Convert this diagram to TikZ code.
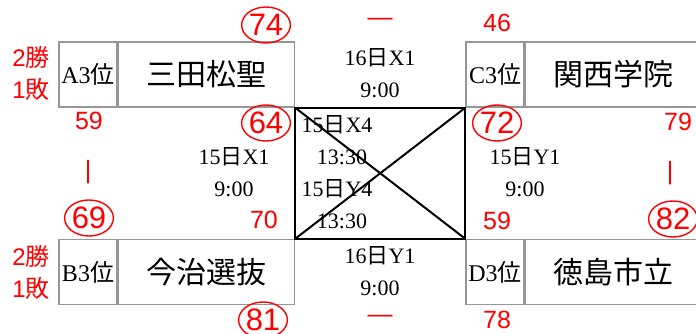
\documentclass[tikz,border=0pt]{standalone}
\usepackage{fontspec}
\setmainfont{Liberation Serif}
\newfontfamily\jp{Noto Sans CJK JP}
\newfontfamily\redsans{Liberation Sans}
\newcommand{\ji}[1]{{\jp #1}}
\usepackage{tikz}
\usetikzlibrary{positioning,shapes.geometric}
\definecolor{boxgray}{RGB}{150,150,150}
\tikzset{
    rank/.style={
           rectangle,
           draw=boxgray, line width=1.5pt,
           minimum width=58pt, minimum height=65pt,
           inner sep=0pt,
           font=\fontsize{24}{28}\selectfont},
    team/.style={
           rectangle,
           draw=boxgray, line width=1.5pt,
           minimum width=176pt, minimum height=65pt,
           inner sep=0pt,
           font=\jp\fontsize{30}{34}\selectfont},
    score/.style={
           text=red, inner sep=0pt,
           font=\redsans\fontsize{25}{28}\selectfont},
    win/.style={
           score, ellipse, draw=red, line width=1.4pt,
           minimum width=42pt, minimum height=36pt,
           font=\redsans\fontsize{31}{34}\selectfont},
    record/.style={
           text=red, inner sep=0pt, align=center,
           font=\redsans\fontsize{24}{32}\selectfont},
    slot/.style={
           inner sep=0pt, align=center,
           font=\fontsize{22}{32}\selectfont},
    match/.style={draw=black, line width=2pt},
}

\begin{document}
\begin{tikzpicture}[x=1pt,y=-1pt]

 \clip (0,0) rectangle (696,333);

 % groups
 \node[rank] (RANKA) at (88,74.5) {A3\ji{位}};
 \node[team, right=0pt of RANKA] (TEAMA) {三田松聖};
 \node[rank] (RANKB) at (88,272) {B3\ji{位}};
 \node[team, right=0pt of RANKB] (TEAMB) {今治選抜};
 \node[rank] (RANKC) at (495,74.5) {C3\ji{位}};
 \node[team, right=0pt of RANKC] (TEAMC) {関西学院};
 \node[rank] (RANKD) at (495,272) {D3\ji{位}};
 \node[team, right=0pt of RANKD] (TEAMD) {徳島市立};

 % records
 \node[record] (RECA) at (31,73) {2\ji{勝}\\1\ji{敗}};
 \node[record] (RECB) at (31,272) {2\ji{勝}\\1\ji{敗}};

 % schedule
 \node[slot] (AC) at (380,73) {16\ji{日}X1\\9:00};
 \node[slot] (BD) at (380,271.5) {16\ji{日}Y1\\9:00};
 \node[slot] (AB) at (234,172) {15\ji{日}X1\\9:00};
 \node[slot] (CD) at (525,172.5) {15\ji{日}Y1\\9:00};
 \node[slot] (AD) at (337,140) {15\ji{日}X4\\\hspace*{10pt}13:30};
 \node[slot] (BC) at (337,204) {15\ji{日}Y4\\\hspace*{10pt}13:30};

 % scores
 \node[win]   (SA1) at (266,25)  {74};
 \node[score] (SC1) at (497,23)  {46};
 \node[score] (DASH1) at (380,22) {—};
 \node[win]   (SA2) at (266,123) {64};
 \node[score] (SA3) at (89,121)  {59};
 \node[win]   (SC2) at (497,123) {72};
 \node[score] (SC3) at (678,122) {79};
 \node[score] (BAR1) at (88,172) {|};
 \node[score] (BAR2) at (670,173) {|};
 \node[win]   (SB1) at (89,218)  {69};
 \node[score] (SB2) at (264,220) {70};
 \node[score] (SD1) at (497,221) {59};
 \node[win]   (SD2) at (673,219) {82};
 \node[win]   (SB3) at (263,320) {81};
 \node[score] (DASH2) at (380,319) {—};
 \node[score] (SD3) at (497,320) {78};

 \draw[match] (TEAMA.south east) rectangle (RANKD.north west);
 \path
 (TEAMA.south east) edge[match] (RANKD.north west)
 (TEAMB.north east) edge[match] (RANKC.south west);

\end{tikzpicture}
\end{document}
